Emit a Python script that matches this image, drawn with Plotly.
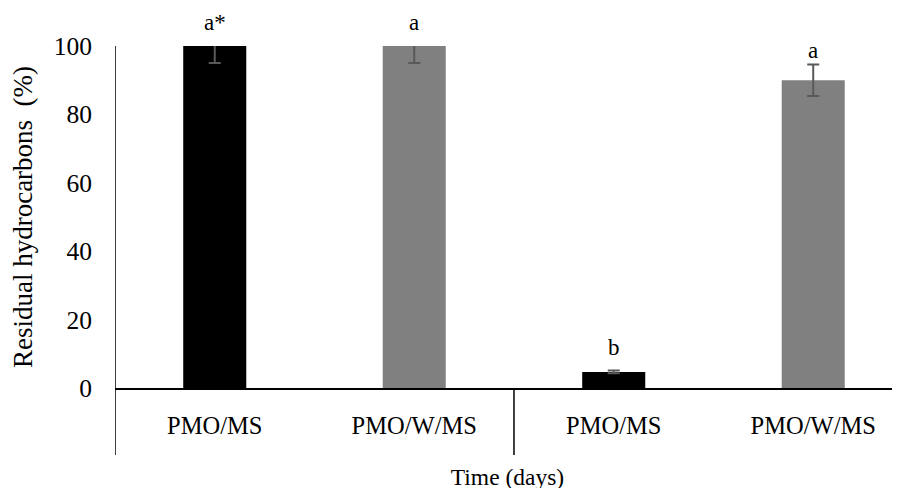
import plotly.graph_objects as go

categories = ["PMO/MS", "PMO/W/MS", "PMO/MS", "PMO/W/MS"]
values = [100, 100, 4.7, 90]
errors = [5, 5, 0.4, 4.6]
letters = ["a*", "a", "b", "a"]
colors = ["#000000", "#808080", "#000000", "#808080"]
y_ticks = [0, 20, 40, 60, 80, 100]

x = list(range(len(categories)))
FONT = "Liberation Serif, Times New Roman, serif"

fig = go.Figure()
fig.add_trace(go.Bar(
    x=x, y=values, width=0.316,
    marker=dict(color=colors, line=dict(width=0)),
    error_y=dict(type="data", array=errors, visible=True,
                 color="#595959", thickness=2, width=6),
    showlegend=False,
))

label_shift = {0: 9, 1: 9, 2: 10, 3: 15}
for xi, v, lab in zip(x, values, letters):
    fig.add_annotation(x=xi, y=v, text=lab, showarrow=False,
                       yanchor="bottom", yshift=label_shift[xi],
                       font=dict(family=FONT, size=23, color="#000000"))

# category group separators (Excel-style multi-level axis)
fig.add_shape(type="line", xref="x", yref="paper", x0=-0.5, x1=-0.5,
              y0=-0.196, y1=1, line=dict(color="#000000", width=1.5))
fig.add_shape(type="line", xref="x", yref="paper", x0=1.5, x1=1.5,
              y0=-0.196, y1=0, line=dict(color="#000000", width=1.5))

fig.update_layout(
    width=900, height=488,
    margin=dict(l=107, r=8, t=38, b=108),
    paper_bgcolor="white", plot_bgcolor="white",
    font=dict(family=FONT, size=22, color="#000000"),
    xaxis=dict(
        range=[-0.5, 3.435], tickmode="array", tickvals=x, ticktext=categories,
        ticks="", showline=True, linecolor="#000000", linewidth=1.5,
        showgrid=False, zeroline=False, ticklabelstandoff=15, automargin=False,
        tickfont=dict(family=FONT, size=24.5),
        title=dict(text="Time (days)", font=dict(family=FONT, size=23.5), standoff=30),
    ),
    yaxis=dict(
        range=[0, 100], tickmode="array", tickvals=y_ticks,
        ticks="", showline=False, showgrid=False, zeroline=False, automargin=False,
        ticklabelstandoff=22, tickfont=dict(family=FONT, size=25.5),
        title=dict(text="Residual hydrocarbons\u00a0 (%)", font=dict(family=FONT, size=27), standoff=18),
    ),
)

fig.write_html("out.html")
